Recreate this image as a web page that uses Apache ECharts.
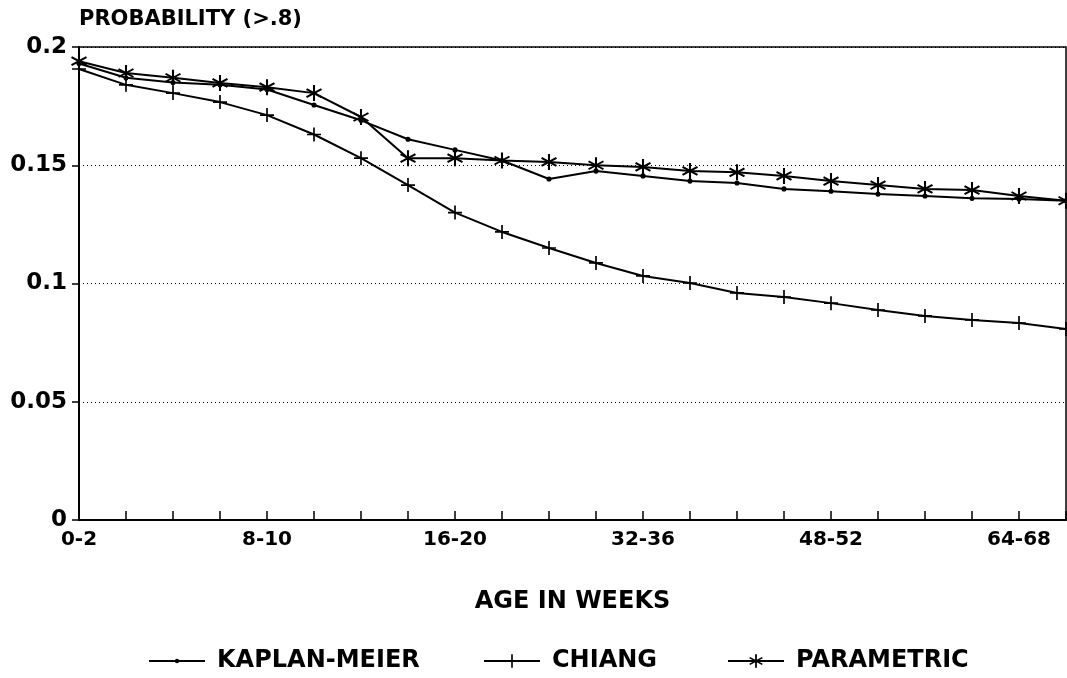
<!DOCTYPE html>
<html>
<head>
<meta charset="utf-8">
<title>Probability by age in weeks</title>
<script src="https://cdn.jsdelivr.net/npm/echarts@6/dist/echarts.min.js"></script>
<style>
  html, body { margin: 0; padding: 0; background: #fff; }
  #chart { width: 1067px; height: 678px; }
</style>
</head>
<body>
<div id="chart"></div>
<script>
// age classes (weeks) along the x axis
const ageClasses = [
  '0-2', '2-4', '4-6', '6-8', '8-10', '10-12', '12-14', '14-16',
  '16-20', '20-24', '24-28', '28-32', '32-36', '36-40', '40-44', '44-48',
  '48-52', '52-56', '56-60', '60-64', '64-68', '68-72'
];

// estimated probabilities
const kaplanMeier = [
  0.193, 0.187, 0.185, 0.184, 0.182, 0.1755, 0.169, 0.161,
  0.1565, 0.152, 0.1442, 0.1476, 0.1455, 0.1433, 0.1425, 0.140,
  0.139, 0.1378, 0.137, 0.136, 0.1357, 0.135
];
const chiang = [
  0.1907, 0.184, 0.1805, 0.1767, 0.1712, 0.163, 0.153, 0.1416,
  0.130, 0.1218, 0.115, 0.1087, 0.1032, 0.1002, 0.096, 0.0943,
  0.0917, 0.0888, 0.0863, 0.0846, 0.0833, 0.0808
];
const parametric = [
  0.194, 0.189, 0.187, 0.1848, 0.183, 0.1805, 0.1704, 0.153,
  0.153, 0.152, 0.1514, 0.150, 0.1493, 0.1476, 0.147, 0.1455,
  0.1433, 0.1416, 0.140, 0.1395, 0.137, 0.135
];

const yTicks = { min: 0, max: 0.2, step: 0.05 };

// marker shapes drawn as filled bars so they look like pen strokes
// small dot inside an empty 10x10 box (corner points keep the box size)
const dotPath = 'path://M0,0 L0,0 Z M10,10 L10,10 Z ' +
  'M3.4,5 A1.6,1.6 0 1 1 6.6,5 A1.6,1.6 0 1 1 3.4,5 Z';
const plusPath = 'path://M4.4,0 L5.6,0 L5.6,10 L4.4,10 Z M0,4.4 L10,4.4 L10,5.6 L0,5.6 Z';
const starPath = 'path://M4.4,0 L5.6,0 L5.6,10 L4.4,10 Z ' +
  'M0.97,1.98 L9.63,6.98 L9.03,8.02 L0.37,3.02 Z ' +
  'M0.37,6.98 L9.03,1.98 L9.63,3.02 L0.97,8.02 Z';

const font = 'DejaVu Sans';
const chart = echarts.init(document.getElementById('chart'));

const lineSeries = (name, data, symbol, size) => ({
  name: name,
  type: 'line',
  data: data,
  symbol: symbol,
  symbolSize: size,
  showAllSymbol: true,
  lineStyle: { color: '#000', width: 2 },
  itemStyle: { color: '#000' },
  emphasis: { disabled: true }
});

const legendText = { fontFamily: font, fontWeight: 'bold', fontSize: 24, color: '#000', padding: [0, 0, 0, 7] };
const legendAt = (name, left) => ({
  left: left, top: 644,
  itemWidth: 56, itemHeight: 17,
  textStyle: legendText,
  data: [name]
});

chart.setOption({
  animation: false,
  backgroundColor: '#fff',
  grid: {
    left: 79, right: 1, top: 47, bottom: 158,
    show: true, borderColor: '#000', borderWidth: 1.5
  },
  legend: [
    legendAt('KAPLAN-MEIER', 143),
    legendAt('CHIANG', 478),
    legendAt('PARAMETRIC', 722)
  ],
  xAxis: {
    type: 'category',
    data: ageClasses,
    boundaryGap: false,
    name: 'AGE IN WEEKS',
    nameLocation: 'middle',
    nameGap: 70,
    nameTextStyle: { fontFamily: font, fontWeight: 'bold', fontSize: 24, color: '#000' },
    axisLine: { lineStyle: { color: '#000', width: 2 } },
    axisTick: { inside: true, length: 9, interval: 0, lineStyle: { color: '#000', width: 1.5 } },
    axisLabel: {
      interval: 3, margin: 10,
      fontFamily: font, fontWeight: 'bold', fontSize: 20, color: '#000'
    },
    splitLine: { show: false }
  },
  yAxis: {
    type: 'value',
    min: yTicks.min, max: yTicks.max, interval: yTicks.step,
    name: 'PROBABILITY (>.8)',
    nameLocation: 'end',
    nameGap: 17,
    nameTextStyle: {
      fontFamily: font, fontWeight: 'bold', fontSize: 21, color: '#000',
      align: 'left'
    },
    axisLine: { show: true, lineStyle: { color: '#000', width: 2 } },
    axisTick: { show: true, length: 7, lineStyle: { color: '#000', width: 1.5 } },
    axisLabel: {
      margin: 12,
      fontFamily: font, fontWeight: 'bold', fontSize: 23, color: '#000'
    },
    splitLine: { show: true, lineStyle: { color: '#000', type: [1, 3], width: 1 } }
  },
  series: [
    lineSeries('KAPLAN-MEIER', kaplanMeier, dotPath, 16),
    lineSeries('CHIANG', chiang, plusPath, 14),
    lineSeries('PARAMETRIC', parametric, starPath, 16)
  ]
});
</script>
</body>
</html>
